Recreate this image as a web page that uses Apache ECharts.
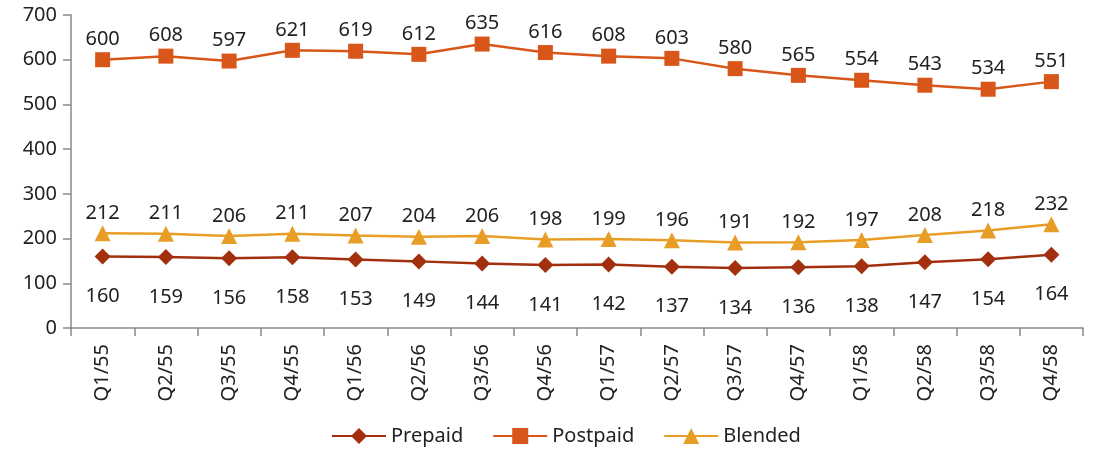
<!DOCTYPE html>
<html>
<head>
<meta charset="utf-8">
<script src="https://cdn.jsdelivr.net/npm/echarts@6/dist/echarts.min.js"></script>
<style>
  html, body { margin: 0; padding: 0; background: #fff; }
  #chart { width: 1094px; height: 449px; }
</style>
</head>
<body>
<div id="chart"></div>
<script>
var quarters = ["Q1/55", "Q2/55", "Q3/55", "Q4/55", "Q1/56", "Q2/56", "Q3/56", "Q4/56",
                "Q1/57", "Q2/57", "Q3/57", "Q4/57", "Q1/58", "Q2/58", "Q3/58", "Q4/58"];
var prepaid = [160, 159, 156, 158, 153, 149, 144, 141, 142, 137, 134, 136, 138, 147, 154, 164];
var postpaid = [600, 608, 597, 621, 619, 612, 635, 616, 608, 603, 580, 565, 554, 543, 534, 551];
var blended = [212, 211, 206, 211, 207, 204, 206, 198, 199, 196, 191, 192, 197, 208, 218, 232];

var chart = echarts.init(document.getElementById("chart"));
var fontName = "Noto Sans";
var option = {
  animation: false,
  textStyle: { fontFamily: fontName },
  grid: { left: 71, right: 11, top: 15, bottom: 121 },
  legend: {
    bottom: -2,
    left: 326,
    itemWidth: 54,
    itemHeight: 20,
    itemGap: 29,
    textStyle: { fontSize: 20, color: "#222", fontFamily: fontName },
    data: ["Prepaid", "Postpaid", "Blended"]
  },
  xAxis: {
    type: "category",
    data: quarters,
    boundaryGap: true,
    axisLine: { lineStyle: { color: "#888", width: 1.5 } },
    axisTick: { show: true, length: 8, lineStyle: { color: "#888", width: 1.5 } },
    axisLabel: { rotate: 90, fontSize: 20, color: "#222", margin: 16, fontFamily: fontName }
  },
  yAxis: {
    type: "value",
    min: 0,
    max: 700,
    interval: 100,
    splitLine: { show: false },
    axisLine: { show: true, lineStyle: { color: "#888", width: 1.5 } },
    axisTick: { show: true, length: 8, lineStyle: { color: "#888", width: 1.5 } },
    axisLabel: { fontSize: 20, color: "#222", margin: 14, fontFamily: fontName }
  },
  series: [
    {
      name: "Prepaid",
      type: "line",
      data: prepaid,
      symbol: "diamond",
      symbolSize: 16,
      color: "#A2300F",
      lineStyle: { width: 2.5, color: "#A2300F" },
      label: { show: true, position: "bottom", distance: 22, fontSize: 20, color: "#222", fontFamily: fontName }
    },
    {
      name: "Postpaid",
      type: "line",
      data: postpaid,
      symbol: "rect",
      symbolSize: 15,
      color: "#D9561A",
      lineStyle: { width: 2.5, color: "#D9561A" },
      label: { show: true, position: "top", distance: 3, fontSize: 20, color: "#222", fontFamily: fontName }
    },
    {
      name: "Blended",
      type: "line",
      data: blended,
      symbol: "triangle",
      symbolSize: 16,
      color: "#E89E26",
      lineStyle: { width: 2.5, color: "#E89E26" },
      label: { show: true, position: "top", distance: 2, fontSize: 20, color: "#222", fontFamily: fontName }
    }
  ]
};
chart.setOption(option);
</script>
</body>
</html>
